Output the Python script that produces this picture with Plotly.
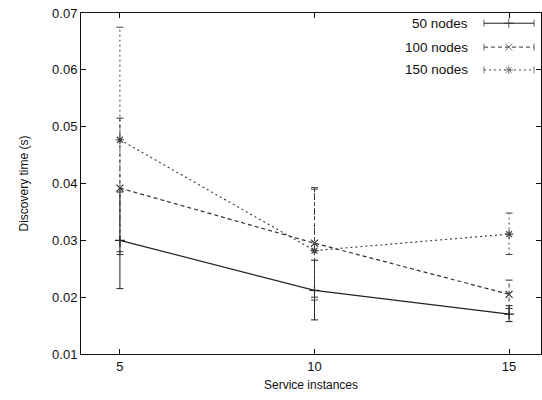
import plotly.graph_objects as go

x = [5, 10, 15]
series_names = ["50 nodes", "100 nodes", "150 nodes"]
y50 = [0.0300, 0.0212, 0.0170]
lo50 = [0.0215, 0.0160, 0.0157]
hi50 = [0.0385, 0.0265, 0.0185]
y100 = [0.0392, 0.0295, 0.0205]
lo100 = [0.0275, 0.0200, 0.0180]
hi100 = [0.0515, 0.0390, 0.0230]
y150 = [0.0477, 0.0282, 0.0311]
lo150 = [0.0280, 0.0195, 0.0275]
hi150 = [0.0675, 0.0393, 0.0348]

styles = [
    dict(dash="solid", symbol="cross-thin", color="#222222"),
    dict(dash="4px,3px", symbol="x-thin", color="#333333"),
    dict(dash="2px,3px", symbol="asterisk", color="#444444"),
]
data = [(y50, lo50, hi50), (y100, lo100, hi100), (y150, lo150, hi150)]

fig = go.Figure()
for name, (ys, lo, hi), st in zip(series_names, data, styles):
    ex, ey = [], []
    for xi, l, h in zip(x, lo, hi):
        ex += [xi, xi, None]
        ey += [l, h, None]
    fig.add_trace(go.Scatter(x=ex, y=ey, mode="lines", showlegend=False,
                             line=dict(color=st["color"], width=1, dash=st["dash"]),
                             hoverinfo="skip"))
    fig.add_trace(go.Scatter(x=x + x, y=lo + hi, mode="markers", showlegend=False,
                             marker=dict(symbol="line-ew", size=5, color=st["color"],
                                         line=dict(width=1, color=st["color"]))))
    fig.add_trace(go.Scatter(x=x, y=ys, mode="lines+markers", name=name, showlegend=False,
                             line=dict(color=st["color"], width=1.2, dash=st["dash"]),
                             marker=dict(symbol=st["symbol"], size=7, color=st["color"],
                                         line=dict(width=1.2, color=st["color"]))))

leg_y = [0.97, 0.90, 0.833]
for i, (name, st) in enumerate(zip(series_names, styles)):
    fig.add_trace(go.Scatter(x=[0.876, 0.985], y=[leg_y[i]] * 2, xaxis="x2", yaxis="y2",
                             mode="lines", showlegend=False,
                             line=dict(color=st["color"], width=1, dash=st["dash"])))
    fig.add_trace(go.Scatter(x=[0.876, 0.93, 0.985], y=[leg_y[i]] * 3, xaxis="x2", yaxis="y2",
                             mode="markers", showlegend=False,
                             marker=dict(symbol=["line-ns", st["symbol"], "line-ns"], size=[5, 7, 5],
                                         color=st["color"], line=dict(width=1, color=st["color"]))))
    fig.add_annotation(x=0.845, y=leg_y[i], xref="paper", yref="paper", text=name,
                       showarrow=False, xanchor="right", yanchor="middle",
                       font=dict(size=13.5, color="#111111"))

font = dict(family="Liberation Sans, Arial, sans-serif", size=13, color="#111111")
fig.update_layout(
    width=542, height=400, margin=dict(l=81, r=1, t=13, b=46),
    paper_bgcolor="white", plot_bgcolor="white", font=font, showlegend=False,
    xaxis=dict(range=[4, 15.82], tickvals=x, ticktext=["5", "10", "15"], showgrid=False,
               zeroline=False, showline=True, mirror="ticks", linecolor="#111111", linewidth=1,
               ticks="inside", ticklen=5, tickcolor="#111111",
               title=dict(text="Service instances", font=dict(size=12), standoff=8)),
    yaxis=dict(range=[0.01, 0.07], tickvals=[0.01, 0.02, 0.03, 0.04, 0.05, 0.06, 0.07],
               tickformat=".2f", showgrid=False, zeroline=False, showline=True, mirror="ticks",
               linecolor="#111111", linewidth=1, ticks="inside", ticklen=5, tickcolor="#111111",
               title=dict(text="Discovery time (s)", font=dict(size=12), standoff=20)),
    xaxis2=dict(range=[0, 1], overlaying="x", visible=False, fixedrange=True),
    yaxis2=dict(range=[0, 1], overlaying="y", visible=False, fixedrange=True),
)
fig.write_html("out.html")
